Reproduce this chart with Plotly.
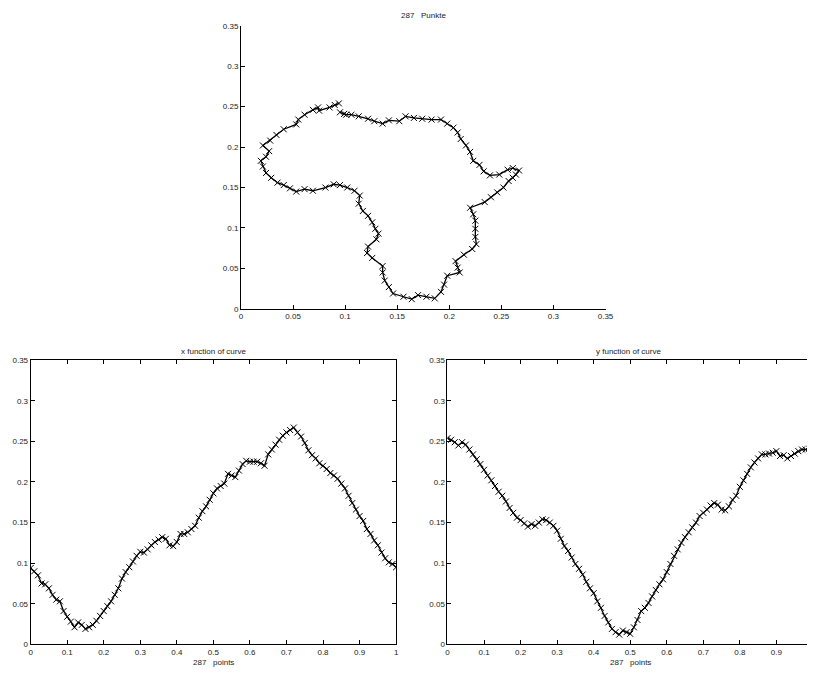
import plotly.graph_objects as go

# parameter grid (curve parameter, 0..1)
t_vals = [round(i / 100, 2) for i in range(101)]

# x function of curve
x_vals = [0.094, 0.090, 0.085, 0.075, 0.074, 0.069, 0.061, 0.055, 0.053, 0.041,
          0.034, 0.028, 0.021, 0.027, 0.024, 0.019, 0.021, 0.024, 0.029, 0.035,
          0.041, 0.047, 0.053, 0.061, 0.069, 0.081, 0.089, 0.095, 0.102, 0.109,
          0.114, 0.113, 0.117, 0.122, 0.126, 0.129, 0.132, 0.130, 0.122, 0.121,
          0.126, 0.136, 0.136, 0.138, 0.142, 0.146, 0.156, 0.164, 0.170, 0.178,
          0.186, 0.192, 0.195, 0.198, 0.210, 0.208, 0.206, 0.214, 0.222, 0.226,
          0.225, 0.225, 0.225, 0.223, 0.220, 0.234, 0.240, 0.246, 0.252, 0.257,
          0.261, 0.264, 0.267, 0.261, 0.256, 0.248, 0.239, 0.233, 0.229, 0.223,
          0.220, 0.216, 0.211, 0.208, 0.204, 0.198, 0.192, 0.183, 0.174, 0.166,
          0.158, 0.152, 0.142, 0.136, 0.128, 0.122, 0.113, 0.106, 0.101, 0.099,
          0.095]

# y function of curve
y_vals = [0.254, 0.252, 0.249, 0.245, 0.249, 0.246, 0.240, 0.234, 0.228, 0.222,
          0.215, 0.208, 0.202, 0.195, 0.188, 0.183, 0.176, 0.168, 0.162, 0.156,
          0.153, 0.149, 0.145, 0.148, 0.146, 0.150, 0.154, 0.153, 0.150, 0.146,
          0.140, 0.130, 0.121, 0.115, 0.107, 0.099, 0.093, 0.086, 0.077, 0.069,
          0.063, 0.053, 0.045, 0.035, 0.027, 0.019, 0.015, 0.012, 0.017, 0.015,
          0.013, 0.021, 0.030, 0.041, 0.045, 0.051, 0.059, 0.067, 0.074, 0.080,
          0.089, 0.099, 0.109, 0.117, 0.125, 0.132, 0.138, 0.144, 0.150, 0.158,
          0.162, 0.166, 0.171, 0.174, 0.172, 0.166, 0.165, 0.170, 0.178, 0.183,
          0.194, 0.202, 0.210, 0.218, 0.224, 0.229, 0.234, 0.234, 0.235, 0.236,
          0.238, 0.232, 0.233, 0.229, 0.232, 0.235, 0.238, 0.240, 0.240, 0.241,
          0.243]

n_points = 287
ticks_035 = [0, 0.05, 0.1, 0.15, 0.2, 0.25, 0.3, 0.35]
tick_text_035 = ["0", "0.05", "0.1", "0.15", "0.2", "0.25", "0.3", "0.35"]
ticks_01 = [0, 0.1, 0.2, 0.3, 0.4, 0.5, 0.6, 0.7, 0.8, 0.9, 1]
tick_text_01 = ["0", "0.1", "0.2", "0.3", "0.4", "0.5", "0.6", "0.7", "0.8", "0.9", "1"]

W, H = 815, 675
FONT = "Liberation Sans, Arial, sans-serif"


def px_x(p):
    return p / W


def px_y(p):
    return 1 - p / H


marker = dict(symbol="x-thin", size=6, color="black", line=dict(width=1, color="black"))
line = dict(color="black", width=1.3)

fig = go.Figure()
fig.add_trace(go.Scatter(x=x_vals, y=y_vals, mode="lines+markers", marker=marker,
                         line=line, xaxis="x", yaxis="y", showlegend=False))
fig.add_trace(go.Scatter(x=t_vals, y=x_vals, mode="lines+markers", marker=marker,
                         line=line, xaxis="x2", yaxis="y2", showlegend=False))
fig.add_trace(go.Scatter(x=t_vals, y=y_vals, mode="lines+markers", marker=marker,
                         line=line, xaxis="x3", yaxis="y3", showlegend=False))

axis_common = dict(showgrid=False, zeroline=False, showline=True, linecolor="black",
                   linewidth=1, ticks="inside", ticklen=4, tickcolor="black",
                   tickfont=dict(family=FONT, size=8, color="#222"))

fig.update_layout(
    width=W, height=H,
    margin=dict(l=0, r=0, t=0, b=0),
    paper_bgcolor="white", plot_bgcolor="white",
    xaxis=dict(domain=[px_x(242), px_x(611)], range=[0, 0.35], anchor="y",
               tickvals=ticks_035, ticktext=tick_text_035, mirror=False, **axis_common),
    yaxis=dict(domain=[px_y(309), px_y(22)], range=[0, 0.35], anchor="x",
               tickvals=ticks_035, ticktext=tick_text_035, mirror=False, **axis_common),
    xaxis2=dict(domain=[px_x(29), px_x(399)], range=[0, 1], anchor="y2",
                tickvals=ticks_01, ticktext=tick_text_01, mirror="ticks", **axis_common),
    yaxis2=dict(domain=[px_y(649), px_y(361)], range=[0, 0.35], anchor="x2",
                tickvals=ticks_035, ticktext=tick_text_035, mirror="ticks", **axis_common),
    xaxis3=dict(domain=[px_x(451), 1.0], range=[0, (815 - 451) / 370], anchor="y3",
                tickvals=ticks_01, ticktext=tick_text_01, mirror="ticks", **axis_common),
    yaxis3=dict(domain=[px_y(649), px_y(361)], range=[0, 0.35], anchor="x3",
                tickvals=ticks_035, ticktext=tick_text_035, mirror=False, **axis_common),
)

sp = "\u00a0\u00a0\u00a0"
ann_font = dict(family=FONT, size=8, color="#222")
annotations = [
    dict(text=f"{n_points}{sp}Punkte", x=px_x(427), y=px_y(12)),
    dict(text="x function of curve", x=px_x(214), y=px_y(352)),
    dict(text="y function of curve", x=px_x(634), y=px_y(352)),
    dict(text=f"{n_points}{sp}points", x=px_x(214), y=px_y(667)),
    dict(text=f"{n_points}{sp}points", x=px_x(636), y=px_y(667)),
]
for a in annotations:
    fig.add_annotation(xref="paper", yref="paper", showarrow=False,
                       xanchor="center", yanchor="middle", font=ann_font, **a)

fig.write_html("out.html")
